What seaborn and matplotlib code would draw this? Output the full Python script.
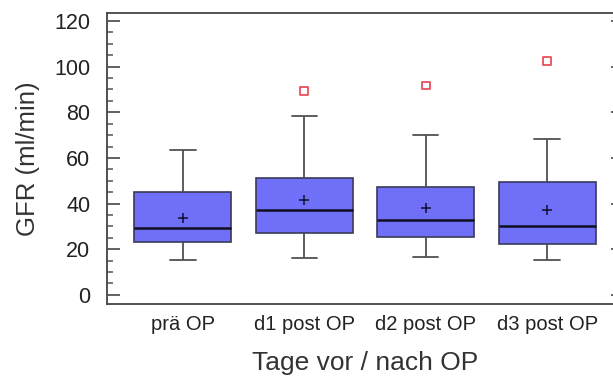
import numpy as np
import pandas as pd
import matplotlib
matplotlib.use("Agg")
import matplotlib.pyplot as plt
from matplotlib.ticker import MultipleLocator
import seaborn as sns

# ---- data ----
categories = ["prä OP", "d1 post OP", "d2 post OP", "d3 post OP"]
whisker_low = [15.4, 16.2, 16.5, 15.4]
q1 = [23.2, 27.3, 25.4, 22.5]
median = [29.2, 37.0, 32.6, 30.1]
q3 = [44.9, 51.3, 47.2, 49.6]
whisker_high = [63.6, 78.2, 70.0, 68.4]
means = [33.6, 41.5, 38.2, 37.1]
outlier_groups = ["d1 post OP", "d2 post OP", "d3 post OP"]
outlier_values = [89.3, 91.8, 102.5]

yticks = [0, 20, 40, 60, 80, 100, 120]

# five-number summaries as long-form table (with whis=(0,100) the box stats reproduce them exactly)
rows = []
for i, c in enumerate(categories):
    for v in (whisker_low[i], q1[i], median[i], q3[i], whisker_high[i]):
        rows.append({"phase": c, "gfr": v})
df = pd.DataFrame(rows)
df_mean = pd.DataFrame({"phase": categories, "gfr": means})
df_out = pd.DataFrame({"phase": outlier_groups, "gfr": outlier_values})

sns.set_style("white")
plt.rcParams["font.family"] = ["Liberation Sans", "DejaVu Sans"]

fig = plt.figure(figsize=(6.13, 3.78), dpi=100)
ax = fig.add_axes([107 / 613, 74 / 378, (623 - 107) / 613, (304 - 13) / 378])

box_fill = "#6f6ff8"
edge = "#3a3a5a"
sns.boxplot(
    data=df, x="phase", y="gfr", order=categories, ax=ax,
    whis=(0, 100), width=0.8, color=box_fill, saturation=1,
    linecolor=edge, linewidth=1.2, showfliers=False,
    capwidths=0.21,
    medianprops=dict(color="#101020", linewidth=1.8),
    whiskerprops=dict(color="#505050", linewidth=1.3),
    capprops=dict(color="#505050", linewidth=1.3),
)
sns.stripplot(
    data=df_mean, x="phase", y="gfr", order=categories, ax=ax,
    jitter=False, marker="+", color="#101030", size=7, linewidth=1.1,
)
sns.stripplot(
    data=df_out, x="phase", y="gfr", order=categories, ax=ax,
    jitter=False, marker="s", size=5.5, facecolor="none",
    edgecolor="#e8505a", linewidth=1.3,
)

ax.set_xlim(-0.625, 3.625)
ax.set_ylim(-4, 123.5)
ax.set_yticks(yticks)
ax.set_yticklabels([str(t) for t in yticks])
ax.yaxis.set_minor_locator(MultipleLocator(5))
ax.tick_params(axis="y", which="major", direction="in", length=9, width=1.3,
               color="#555555", labelsize=15.5, left=True, right=True, pad=12)
ax.tick_params(axis="y", which="minor", direction="in", length=4.5, width=1.1,
               color="#555555", left=True, right=False)
ax.tick_params(axis="x", which="both", length=0, labelsize=14.5, pad=8)
for s in ax.spines.values():
    s.set_color("#444444")
    s.set_linewidth(1.3)
    s.set_visible(True)

ax.set_xlabel("Tage vor / nach OP", fontsize=19, color="#333333", labelpad=12)
ax.set_ylabel("GFR (ml/min)", fontsize=18.5, color="#333333", labelpad=10)
for lab in ax.get_xticklabels() + ax.get_yticklabels():
    lab.set_color("#222222")

fig.savefig("out.png", dpi=100)
